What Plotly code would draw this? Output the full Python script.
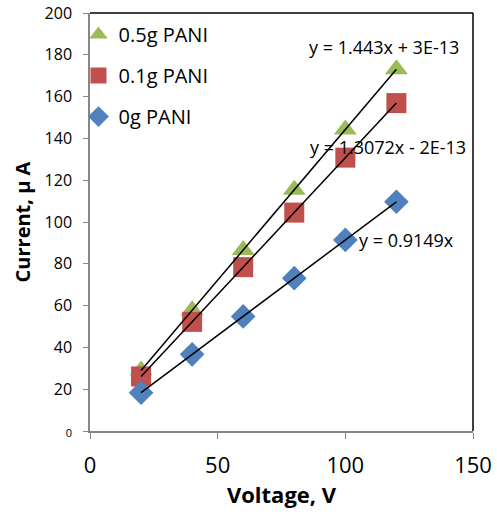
import numpy as np
import plotly.graph_objects as go

voltage = [20, 40, 60, 80, 100, 120]
pani_05 = [28.9, 57.8, 86.6, 115.4, 144.3, 173.1]
pani_01 = [26.1, 52.2, 78.4, 104.5, 130.8, 156.9]
pani_00 = [18.3, 36.7, 54.8, 73.1, 91.4, 109.7]

names = ["0.5g PANI", "0.1g PANI", "0g PANI"]
colors = ["#9BBB59", "#C0504D", "#4F81BD"]
symbols = ["triangle-up", "square", "diamond"]
sizes = [20, 20, 19]
series = [pani_05, pani_01, pani_00]
eq_texts = ["y = 1.443x + 3E-13", "y = 1.3072x - 2E-13", "y = 0.9149x"]
eq_pos = [(115.1, 183.5, "center"), (116.7, 136, "center"), (104.6, 91.5, "left")]

y_ticks = list(range(0, 201, 20))
y_ticktext = ["<span style='font-size:11px'>0</span>"] + [str(v) for v in y_ticks[1:]]
x_ticks = [0, 50, 100, 150]

FONT = "Open Sans"
fig = go.Figure()
for i, (n, c, s, sz, ys) in enumerate(zip(names, colors, symbols, sizes, series)):
    fig.add_trace(go.Scatter(x=voltage, y=ys, mode="markers", name=n, legendgroup=f"g{i}",
                             marker=dict(color=c, symbol=s, size=sz, line=dict(width=0))))
for ys in series:
    xa = np.array(voltage, dtype=float)
    m, b = np.polyfit(xa, ys, 1)
    xs = [xa.min(), xa.max()]
    fig.add_trace(go.Scatter(x=xs, y=[m * v + b for v in xs], mode="lines",
                             line=dict(color="black", width=1.5), showlegend=False,
                             hoverinfo="skip"))

for t, (x, y, al) in zip(eq_texts, eq_pos):
    fig.add_annotation(x=x, y=y, text=t, showarrow=False, xanchor=al,
                       font=dict(family=FONT, size=18, color="black"))

fig.add_shape(type="line", xref="paper", yref="paper", x0=0, x1=1, y0=1, y1=1,
              line=dict(color="black", width=1.5))
fig.add_shape(type="line", xref="paper", yref="paper", x0=1, x1=1, y0=0, y1=1,
              line=dict(color="black", width=1.5))

fig.update_layout(
    width=497, height=515,
    margin=dict(l=90, r=24, t=13, b=84),
    plot_bgcolor="white", paper_bgcolor="white",
    font=dict(family=FONT, color="black"),
    showlegend=True,
    legend=dict(x=-0.03, y=0.995, xanchor="left", yanchor="top",
                font=dict(family=FONT, size=20), bgcolor="rgba(0,0,0,0)",
                tracegroupgap=12, itemwidth=30),
    xaxis=dict(range=[0, 150], tickvals=x_ticks, showgrid=False, zeroline=False,
               showline=True, linecolor="#868686", linewidth=1.5, automargin=False,
               ticks="outside", ticklen=6, tickcolor="#868686", ticklabelstandoff=8,
               tickfont=dict(family=FONT, size=22),
               title=dict(text="<b>Voltage, V</b>", font=dict(family=FONT, size=22), standoff=8)),
    yaxis=dict(range=[0, 200], tickvals=y_ticks, ticktext=y_ticktext, showgrid=False,
               zeroline=False, automargin=False,
               showline=True, linecolor="#868686", linewidth=1.5,
               ticks="outside", ticklen=5, tickcolor="#868686", ticklabelstandoff=8,
               tickfont=dict(family=FONT, size=16),
               title=dict(text="<b>Current, μ A</b>", font=dict(family=FONT, size=20), standoff=9)),
)

fig.write_html("out.html", config={"displayModeBar": False},
               post_script="document.body.style.margin='0px';")
